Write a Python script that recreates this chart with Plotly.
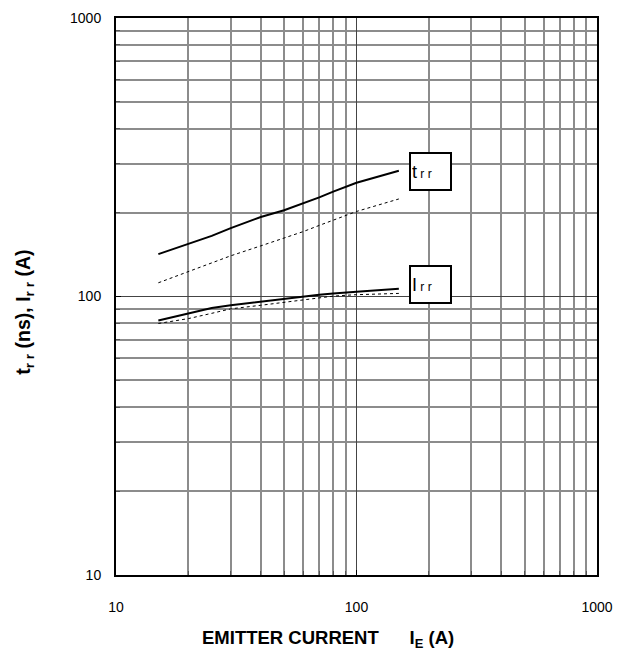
import plotly.graph_objects as go

# Data
x_vals = [15, 20, 25, 30, 40, 50, 60, 70, 80, 90, 100, 150]
trr_solid = [142, 154, 165, 176, 193, 204, 216, 227, 238, 248, 256, 283]
trr_dot = [112, 123, 132, 140, 152, 162, 171, 180, 188, 195, 202, 224]
irr_solid = [82, 86.7, 91, 93, 96, 98, 100, 101.5, 102.5, 103.5, 104, 106.6]
irr_dot = [80, 83.3, 87, 90.3, 93, 95.4, 97.5, 99.4, 100.3, 101, 101.5, 102.6]

x_major = [10, 100, 1000]
y_major = [10, 100, 1000]
minor_vals = [m * d for d in (10, 100) for m in range(2, 10)]

font_family = "Liberation Sans, Arial, sans-serif"

fig = go.Figure()
fig.add_trace(go.Scatter(x=x_vals, y=trr_solid, mode="lines",
                         line=dict(color="black", width=2), showlegend=False))
fig.add_trace(go.Scatter(x=x_vals, y=trr_dot, mode="lines",
                         line=dict(color="black", width=1, dash="dot"), showlegend=False))
fig.add_trace(go.Scatter(x=x_vals, y=irr_solid, mode="lines",
                         line=dict(color="black", width=2), showlegend=False))
fig.add_trace(go.Scatter(x=x_vals, y=irr_dot, mode="lines",
                         line=dict(color="black", width=1, dash="dot"), showlegend=False))

axis_common = dict(
    type="log",
    showline=True, linecolor="black", linewidth=2, mirror=True,
    showgrid=True, gridcolor="#444444", gridwidth=1,
    ticks="inside", ticklen=5, tickcolor="black",
    tickfont=dict(family=font_family, size=14, color="black"),
    minor=dict(tickmode="array", tickvals=minor_vals, showgrid=True,
               gridcolor="#8c8c8c", gridwidth=1.5, ticks="inside", ticklen=4,
               tickcolor="#555555"),
    zeroline=False,
)

fig.update_xaxes(range=[1, 3], tickmode="array", tickvals=x_major,
                 ticktext=[str(v) for v in x_major], ticklabelstandoff=18,
                 **axis_common)
fig.update_yaxes(range=[1, 3], tickmode="array", tickvals=y_major,
                 ticktext=[str(v) for v in y_major], ticklabelstandoff=10,
                 **axis_common)

box_common = dict(xref="x", yref="y", showarrow=False, bgcolor="white",
                  bordercolor="black", borderwidth=2, borderpad=1,
                  width=37, height=33, align="left", xanchor="center", yanchor="middle")
fig.add_annotation(x=2.308, y=2.4496, text="t<span style='font-size:12px'> r r</span>",
                   font=dict(family=font_family, size=18, color="black"), **box_common)
fig.add_annotation(x=2.308, y=2.0425, text="I<span style='font-size:12px'> r r</span>",
                   font=dict(family=font_family, size=18, color="black"), **box_common)

fig.add_annotation(xref="paper", yref="paper", x=(328 - 116) / 481, y=-(640 - 575) / 565,
                   text="<b>EMITTER CURRENT&nbsp;&nbsp;&nbsp;&nbsp;&nbsp;&nbsp;I<sub>E</sub> (A)</b>",
                   showarrow=False, xanchor="center", yanchor="middle",
                   font=dict(family=font_family, size=18.5, color="black"))
fig.add_annotation(xref="paper", yref="paper", x=-(116 - 25) / 481, y=1 - (309 - 10) / 565,
                   text="<b>t<sub>r r</sub> (ns), I<sub>r r</sub> (A)</b>", textangle=-90,
                   showarrow=False, xanchor="center", yanchor="middle",
                   font=dict(family=font_family, size=19.5, color="black"))

fig.update_layout(width=630, height=654,
                  margin=dict(l=116, r=33, t=10, b=79),
                  plot_bgcolor="white", paper_bgcolor="white",
                  font=dict(family=font_family, color="black"))

fig.write_html("out.html", config={"displayModeBar": False},
               post_script="document.body.style.margin='0';")
